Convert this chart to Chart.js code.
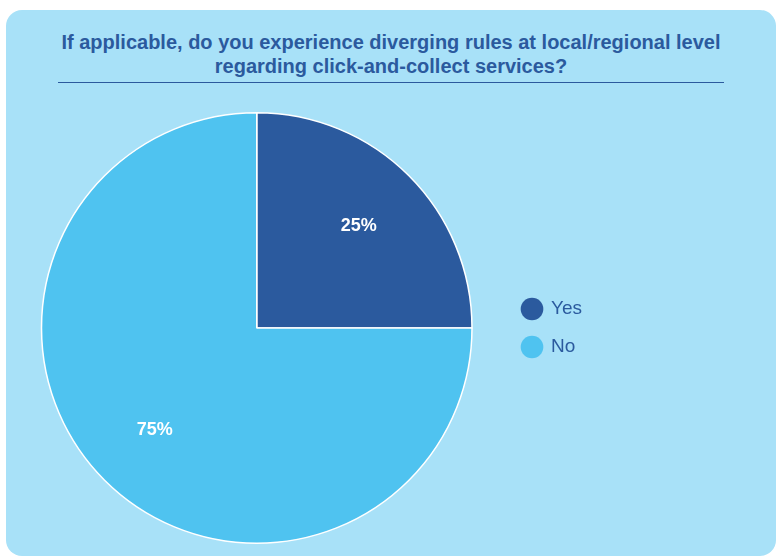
<!DOCTYPE html>
<html>
<head>
<meta charset="utf-8">
<script src="https://cdn.jsdelivr.net/npm/chart.js@4/dist/chart.umd.min.js"></script>
<style>
  body { margin: 0; background: #fff; width: 782px; height: 558px; overflow: hidden; position: relative; font-family: "Liberation Sans", Arial, sans-serif; }
  #panel { position: absolute; left: 6px; top: 10px; width: 770px; height: 546px; background: #a8e1f8; border-radius: 16px; }
  #title { position: absolute; left: 0; top: 30px; width: 782px; text-align: center; color: #2b5a9e; font-weight: bold; font-size: 20px; line-height: 24px; }
  #rule { position: absolute; left: 58px; top: 82px; width: 666px; height: 0; border-top: 1.5px solid #2b5a9e; }
  #wrap { position: absolute; left: 0; top: 90px; width: 782px; height: 468px; }
</style>
</head>
<body>
<div id="panel"></div>
<div id="title">If applicable, do you experience diverging rules at local/regional level<br>regarding click-and-collect services?</div>
<div id="rule"></div>
<div id="wrap"><canvas id="chart"></canvas></div>
<script>
const categories = ['Yes', 'No'];
const shares = [25, 75];
const colors = ['#2b5a9e', '#4fc3f0'];

// percent labels inside the slices
const sliceLabels = {
    id: 'sliceLabels',
    afterDatasetsDraw(chart) {
        const ctx = chart.ctx;
        const meta = chart.getDatasetMeta(0);
        ctx.save();
        ctx.fillStyle = '#ffffff';
        ctx.font = 'bold 18px "Liberation Sans", Arial, sans-serif';
        ctx.textAlign = 'center';
        ctx.textBaseline = 'middle';
        meta.data.forEach((arc, i) => {
            const p = arc.getProps(['x', 'y', 'startAngle', 'endAngle', 'outerRadius'], true);
            const mid = (p.startAngle + p.endAngle) / 2;
            const r = p.outerRadius * 0.67;
            ctx.fillText(shares[i] + '%', p.x + Math.cos(mid) * r, p.y + Math.sin(mid) * r);
        });
        ctx.restore();
    }
};

new Chart(document.getElementById('chart'), {
    type: 'pie',
    data: {
        labels: categories,
        datasets: [{
            data: shares,
            backgroundColor: colors,
            borderColor: '#ffffff',
            borderWidth: 1.5
        }]
    },
    plugins: [sliceLabels],
    options: {
        responsive: true,
        maintainAspectRatio: false,
        animation: false,
        layout: {
            padding: { left: 10, top: 22, bottom: 14, right: 190 }
        },
        plugins: {
            tooltip: { enabled: false },
            legend: {
                position: 'right',
                labels: {
                    usePointStyle: true,
                    pointStyle: 'circle',
                    boxHeight: 16,
                    padding: 19,
                    color: '#2b5a9e',
                    font: { family: '"Liberation Sans", Arial, sans-serif', size: 19 },
                    generateLabels(chart) {
                        const items = Chart.overrides.pie.plugins.legend.labels.generateLabels(chart);
                        items.forEach(it => { it.lineWidth = 0; it.strokeStyle = it.fillStyle; });
                        return items;
                    }
                }
            }
        }
    }
});
</script>
</body>
</html>
